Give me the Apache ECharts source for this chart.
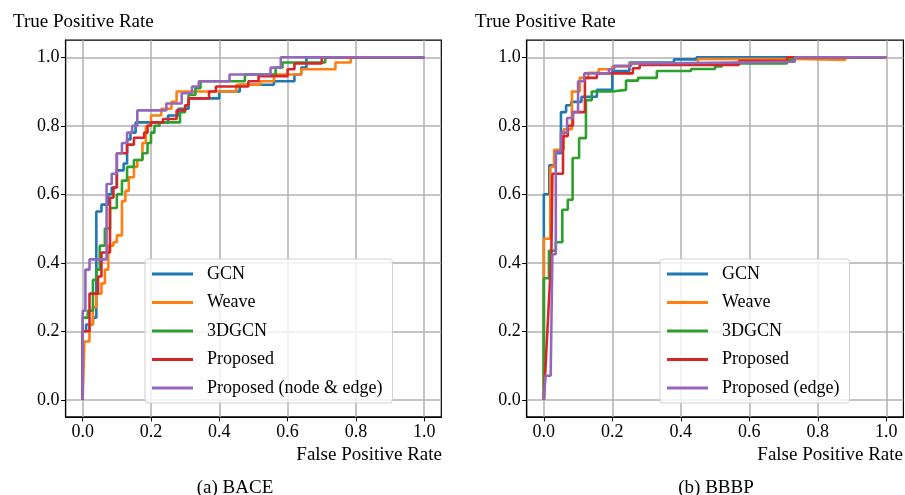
<!DOCTYPE html>
<html>
<head>
<meta charset="utf-8">
<script src="https://cdn.jsdelivr.net/npm/echarts@6/dist/echarts.min.js"></script>
<style>html,body{margin:0;padding:0;background:#fff}#c{width:905px;height:495px}</style>
</head>
<body>
<div id="c"></div>
<script>
// ---------- data ----------
const tickValues = [0, 0.2, 0.4, 0.6, 0.8, 1.0];
const namesBACE = ['GCN', 'Weave', '3DGCN', 'Proposed', 'Proposed (node & edge)'];
const namesBBBP = ['GCN', 'Weave', '3DGCN', 'Proposed', 'Proposed (edge)'];
const colors = ['#1f77b4', '#ff7f0e', '#2ca02c', '#d62728', '#9467bd'];

// (a) BACE  [FPR, TPR]
const baceGCN = [[0,0],[0,0.2],[0.01,0.2],[0.01,0.22],[0.03,0.22],[0.03,0.24],[0.04,0.24],[0.04,0.55],[0.055,0.55],[0.055,0.57],[0.075,0.57],[0.075,0.6],[0.085,0.6],[0.085,0.62],[0.1,0.62],[0.1,0.67],[0.12,0.67],[0.12,0.69],[0.13,0.69],[0.13,0.76],[0.14,0.76],[0.14,0.78],[0.155,0.78],[0.155,0.81],[0.25,0.81],[0.25,0.83],[0.28,0.83],[0.28,0.85],[0.31,0.85],[0.31,0.88],[0.4,0.88],[0.4,0.9],[0.46,0.9],[0.46,0.92],[0.56,0.92],[0.56,0.93],[0.62,0.93],[0.62,0.95],[0.64,0.95],[0.64,0.97],[0.655,0.97],[0.655,1],[1,1]];
const baceWeave = [[0,0],[0.005,0],[0.005,0.17],[0.02,0.17],[0.02,0.22],[0.03,0.22],[0.03,0.27],[0.04,0.27],[0.04,0.31],[0.055,0.31],[0.055,0.34],[0.065,0.34],[0.065,0.38],[0.075,0.38],[0.075,0.45],[0.09,0.45],[0.09,0.46],[0.1,0.46],[0.1,0.48],[0.115,0.48],[0.115,0.58],[0.125,0.58],[0.125,0.61],[0.135,0.61],[0.135,0.65],[0.15,0.65],[0.15,0.68],[0.16,0.68],[0.16,0.7],[0.175,0.7],[0.175,0.75],[0.185,0.75],[0.185,0.8],[0.2,0.8],[0.2,0.83],[0.23,0.83],[0.23,0.85],[0.26,0.85],[0.26,0.87],[0.275,0.87],[0.275,0.9],[0.45,0.9],[0.45,0.92],[0.52,0.92],[0.52,0.93],[0.56,0.93],[0.56,0.95],[0.64,0.95],[0.64,0.965],[0.74,0.965],[0.74,0.985],[0.785,0.985],[0.785,1],[1,1]];
const bace3DGCN = [[0,0],[0,0.24],[0.015,0.24],[0.015,0.26],[0.03,0.26],[0.03,0.35],[0.04,0.35],[0.04,0.38],[0.05,0.38],[0.05,0.45],[0.065,0.45],[0.065,0.5],[0.08,0.5],[0.08,0.56],[0.1,0.56],[0.1,0.6],[0.115,0.6],[0.115,0.64],[0.13,0.64],[0.13,0.68],[0.15,0.68],[0.15,0.7],[0.175,0.7],[0.175,0.72],[0.19,0.72],[0.19,0.75],[0.2,0.75],[0.2,0.78],[0.21,0.78],[0.21,0.8],[0.225,0.8],[0.225,0.81],[0.285,0.81],[0.285,0.84],[0.3,0.84],[0.3,0.86],[0.31,0.86],[0.31,0.89],[0.33,0.89],[0.33,0.91],[0.345,0.91],[0.345,0.93],[0.475,0.93],[0.475,0.95],[0.565,0.95],[0.565,0.97],[0.585,0.97],[0.585,0.985],[0.71,0.985],[0.71,1],[1,1]];
const baceProposed = [[0,0],[0,0.2],[0.02,0.2],[0.02,0.31],[0.045,0.31],[0.045,0.36],[0.055,0.36],[0.055,0.43],[0.08,0.43],[0.08,0.59],[0.09,0.59],[0.09,0.62],[0.1,0.62],[0.1,0.72],[0.13,0.72],[0.13,0.745],[0.15,0.745],[0.15,0.765],[0.18,0.765],[0.18,0.78],[0.19,0.78],[0.19,0.8],[0.2,0.8],[0.2,0.81],[0.235,0.81],[0.235,0.82],[0.275,0.82],[0.275,0.845],[0.3,0.845],[0.3,0.86],[0.31,0.86],[0.31,0.88],[0.37,0.88],[0.37,0.9],[0.39,0.9],[0.39,0.915],[0.485,0.915],[0.485,0.93],[0.515,0.93],[0.515,0.945],[0.6,0.945],[0.6,0.965],[0.62,0.965],[0.62,0.982],[0.7,0.982],[0.7,1],[1,1]];
const baceNodeEdge = [[0,0],[0,0.26],[0.008,0.26],[0.008,0.38],[0.02,0.38],[0.02,0.41],[0.07,0.41],[0.07,0.63],[0.085,0.63],[0.085,0.66],[0.1,0.66],[0.1,0.72],[0.115,0.72],[0.115,0.75],[0.13,0.75],[0.13,0.78],[0.145,0.78],[0.145,0.8],[0.16,0.8],[0.16,0.845],[0.245,0.845],[0.245,0.865],[0.29,0.865],[0.29,0.895],[0.32,0.895],[0.32,0.915],[0.34,0.915],[0.34,0.93],[0.43,0.93],[0.43,0.95],[0.55,0.95],[0.55,0.97],[0.58,0.97],[0.58,1],[1,1]];

// (b) BBBP  [FPR, TPR]
const bbbpGCN = [[0,0],[0,0.6],[0.016,0.6],[0.016,0.685],[0.035,0.685],[0.035,0.72],[0.05,0.72],[0.05,0.84],[0.065,0.84],[0.065,0.86],[0.08,0.86],[0.08,0.87],[0.11,0.87],[0.11,0.885],[0.155,0.885],[0.155,0.905],[0.2,0.905],[0.2,0.96],[0.25,0.96],[0.25,0.985],[0.38,0.985],[0.38,0.994],[0.446,0.994],[0.446,1],[1,1]];
const bbbpWeave = [[0,0],[0,0.47],[0.019,0.47],[0.019,0.68],[0.03,0.68],[0.03,0.73],[0.058,0.73],[0.058,0.79],[0.082,0.79],[0.082,0.9],[0.105,0.9],[0.105,0.94],[0.13,0.94],[0.13,0.955],[0.16,0.955],[0.16,0.965],[0.2,0.965],[0.2,0.973],[0.25,0.973],[0.25,0.982],[0.45,0.982],[0.45,0.995],[0.74,0.995],[0.74,0.992],[0.88,0.992],[0.88,1],[1,1]];
const bbbp3DGCN = [[0,0],[0,0.355],[0.015,0.355],[0.015,0.435],[0.035,0.435],[0.035,0.46],[0.054,0.46],[0.054,0.555],[0.07,0.555],[0.07,0.584],[0.084,0.584],[0.084,0.706],[0.103,0.706],[0.103,0.764],[0.123,0.764],[0.123,0.875],[0.14,0.875],[0.14,0.9],[0.2,0.9],[0.2,0.905],[0.24,0.905],[0.24,0.932],[0.275,0.932],[0.275,0.94],[0.33,0.94],[0.33,0.96],[0.43,0.96],[0.43,0.966],[0.5,0.966],[0.5,0.973],[0.52,0.973],[0.52,0.982],[0.71,0.982],[0.71,0.992],[0.733,0.992],[0.733,1],[1,1]];
const bbbpProposed = [[0,0],[0.022,0.425],[0.025,0.425],[0.025,0.66],[0.056,0.66],[0.056,0.77],[0.07,0.77],[0.07,0.8],[0.085,0.8],[0.085,0.84],[0.12,0.84],[0.12,0.94],[0.155,0.94],[0.155,0.953],[0.26,0.953],[0.26,0.968],[0.28,0.968],[0.28,0.978],[0.57,0.978],[0.57,0.99],[0.71,0.99],[0.71,1],[1,1]];
const bbbpEdge = [[0,0],[0.005,0.07],[0.02,0.07],[0.025,0.425],[0.035,0.425],[0.035,0.725],[0.05,0.725],[0.05,0.78],[0.068,0.78],[0.068,0.823],[0.085,0.823],[0.085,0.84],[0.1,0.84],[0.1,0.93],[0.118,0.93],[0.118,0.953],[0.19,0.953],[0.19,0.965],[0.205,0.965],[0.205,0.975],[0.255,0.975],[0.255,0.982],[0.31,0.982],[0.31,0.987],[0.733,0.987],[0.733,1],[1,1]];

const baceSeries = [baceGCN, baceWeave, bace3DGCN, baceProposed, baceNodeEdge];
const bbbpSeries = [bbbpGCN, bbbpWeave, bbbp3DGCN, bbbpProposed, bbbpEdge];

// ---------- chart ----------
const FONT = '"Liberation Serif", "Times New Roman", serif';
const chart = echarts.init(document.getElementById('c'), null, {renderer: 'canvas'});

function makeAxis(gridIndex) {
  return {
    type: 'value', gridIndex: gridIndex, min: -0.05, max: 1.05,
    axisLine: {show: true, onZero: false, lineStyle: {color: '#000', width: 1.2}},
    axisTick: {show: true, inside: false, length: 4.5, lineStyle: {color: '#000', width: 1}, customValues: tickValues},
    axisLabel: {show: true, customValues: tickValues, formatter: v => v.toFixed(1), fontFamily: FONT, fontSize: 18, color: '#000', margin: 6},
    splitLine: {show: true, lineStyle: {color: '#b0b0b0', width: 1.5}}
  };
}

const series = [];
baceSeries.forEach((d, i) => series.push({
  name: namesBACE[i], type: 'line', xAxisIndex: 0, yAxisIndex: 0, data: d,
  symbol: 'none', showSymbol: false, lineStyle: {width: 2.6, color: colors[i]}, itemStyle: {color: colors[i]}, z: 3 + i
}));
bbbpSeries.forEach((d, i) => series.push({
  name: namesBBBP[i], type: 'line', xAxisIndex: 1, yAxisIndex: 1, data: d,
  symbol: 'none', showSymbol: false, lineStyle: {width: 2.6, color: colors[i]}, itemStyle: {color: colors[i]}, z: 3 + i
}));

function makeLegend(left, data) {
  return {
    data: data, orient: 'vertical', left: left, top: 259,
    icon: 'rect', itemWidth: 41, itemHeight: 3, itemGap: 10.5,
    padding: [6, 10, 6, 7],
    backgroundColor: 'rgba(255,255,255,0.8)', borderColor: '#d0d0d0', borderWidth: 1, borderRadius: 3,
    textStyle: {fontFamily: FONT, fontSize: 18, color: '#000', lineHeight: 18, padding: [0, 0, 0, 9]},
    selectedMode: false, z: 10
  };
}

function txt(text, x, y, align) {
  return {type: 'text', x: x, y: y, z: 20, style: {text: text, font: '19px ' + FONT, fill: '#000', align: align, verticalAlign: 'middle'}};
}

chart.setOption({
  animation: false,
  backgroundColor: '#fff',
  grid: [
    {left: 65.6, top: 40.2, width: 375.7, height: 376.7, show: true, borderColor: '#000', borderWidth: 1.2, containLabel: false},
    {left: 526.7, top: 40.2, width: 376.7, height: 376.7, show: true, borderColor: '#000', borderWidth: 1.2, containLabel: false}
  ],
  xAxis: [makeAxis(0), makeAxis(1)],
  yAxis: [makeAxis(0), makeAxis(1)],
  legend: [makeLegend(145, namesBACE), makeLegend(660, namesBBBP)],
  series: series,
  graphic: [
    txt('True Positive Rate', 13, 22, 'left'),
    txt('False Positive Rate', 442, 455, 'right'),
    txt('(a) BACE', 235, 488, 'center'),
    txt('True Positive Rate', 475, 22, 'left'),
    txt('False Positive Rate', 903, 455, 'right'),
    txt('(b) BBBP', 716, 488, 'center')
  ]
});
</script>
</body>
</html>
